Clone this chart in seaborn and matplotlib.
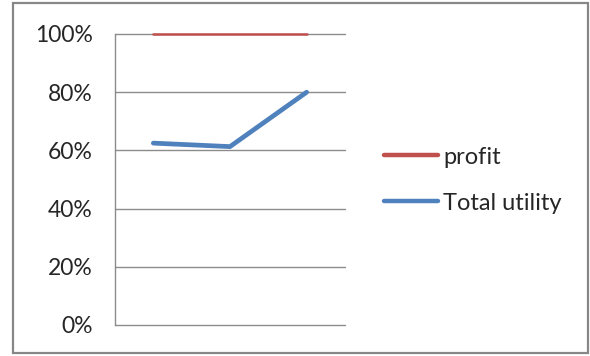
import pandas as pd
import matplotlib.pyplot as plt
import seaborn as sns
from matplotlib.patches import Rectangle
from matplotlib.ticker import PercentFormatter

# datos
categorias = ["1", "2", "3"]
profit = [1.00, 1.00, 1.00]
total_utility = [0.625, 0.613, 0.80]

df = pd.DataFrame({
    "cat": categorias * 2,
    "valor": profit + total_utility,
    "serie": ["profit"] * 3 + ["Total utility"] * 3,
})

sns.set_style("white")
plt.rcParams["font.family"] = ["Lato", "DejaVu Sans"]

fig = plt.figure(figsize=(5.9, 3.56), dpi=100)
ax = fig.add_axes([0.1949, 0.0871, 0.3898, 0.8174])

sns.lineplot(data=df, x="cat", y="valor", hue="serie",
             palette={"profit": "#C0504D", "Total utility": "#4F81BD"},
             ax=ax, legend=False)
# grosor de cada linea
ax.lines[0].set_linewidth(1.8)
ax.lines[1].set_linewidth(3.4)
ax.lines[1].set_solid_capstyle("round")

# ejes estilo excel
ax.set_xlim(-0.5, 2.5)
ax.set_ylim(0, 1)
ax.set_yticks([0, 0.2, 0.4, 0.6, 0.8, 1.0])
ax.yaxis.set_major_formatter(PercentFormatter(1.0, decimals=0))
ax.set_xticks([])
ax.set_xlabel("")
ax.set_ylabel("")
ax.grid(axis="y", color="#8c8c8c", linewidth=1.0)
for s in ["top", "right", "bottom"]:
    ax.spines[s].set_visible(False)
ax.spines["left"].set_color("#8c8c8c")
ax.spines["left"].set_linewidth(1.0)
ax.tick_params(axis="y", direction="out", length=7, width=1.0, color="#8c8c8c",
               labelsize=16.5, labelcolor="#262626", pad=9)
ax.set_axisbelow(True)
for gl in ax.get_ygridlines():
    gl.set_clip_on(False)
for ln in ax.lines:
    ln.set_clip_on(False)
    ln.set_zorder(3)

# leyenda
handles = [plt.Line2D([], [], color="#C0504D", linewidth=3.2),
           plt.Line2D([], [], color="#4F81BD", linewidth=3.2)]
fig.legend(handles, ["profit", "Total utility"], loc="center left",
           bbox_to_anchor=(0.635, 0.494), frameon=False, fontsize=17,
           handlelength=2.3, handletextpad=0.2, labelspacing=1.05,
           labelcolor="#262626", borderaxespad=0)

# borde del grafico
fig.patches.append(Rectangle((13 / 590, 3 / 356), 575 / 590, 350 / 356,
                             transform=fig.transFigure, fill=False,
                             edgecolor="#878787", linewidth=1.6))

plt.savefig("out.png", dpi=100)
